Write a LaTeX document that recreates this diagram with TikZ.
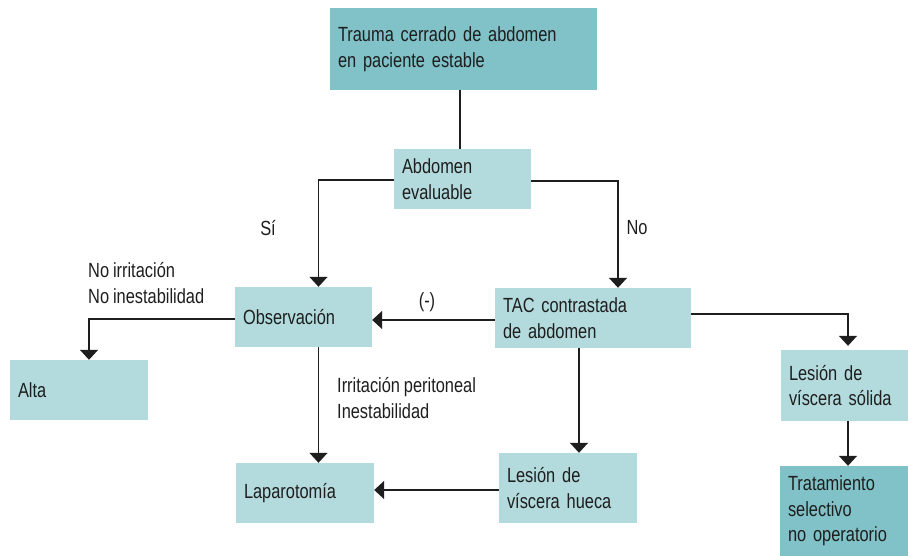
\documentclass[tikz,border=0pt]{standalone}
\usepackage{fontspec}
\setmainfont{Liberation Sans}[FakeStretch=0.8, WordSpace=0.85]
\usetikzlibrary{arrows.meta}
\definecolor{tealdark}{HTML}{80C2C7}
\definecolor{teallight}{HTML}{B3DBDD}
\definecolor{ink}{HTML}{1E1E1E}
\tikzset{
  box/.style={fill=teallight, draw=none, inner xsep=8pt, inner ysep=0pt,
    align=left, text=ink, font=\fontsize{20.5}{25.5}\selectfont},
  keybox/.style={box, fill=tealdark},
  link/.style={draw=ink, line width=1.6pt},
  arr/.style={link, -{Triangle[width=18pt,length=10pt]}},
  lbl/.style={text=ink, font=\fontsize{20.5}{25.5}\selectfont, inner sep=0pt, align=left}
}
\begin{document}
\begin{tikzpicture}[x=1pt,y=-1pt]
\useasboundingbox (0,0) rectangle (908,556);

% boxes
\node[keybox, minimum width=267, minimum height=82, text width=251] (top) at (463.5,49) {Trauma cerrado de abdomen\\en paciente estable};
\node[box, minimum width=137, minimum height=60, text width=121] (eval) at (462.5,179) {Abdomen\\evaluable};
\node[box, minimum width=137, minimum height=60, text width=121] (obs) at (303.5,317) {Observación};
\node[box, minimum width=196, minimum height=60, text width=180] (tac) at (593,318) {TAC contrastada\\de abdomen};
\node[box, minimum width=138, minimum height=60, text width=122] (alta) at (79,390) {Alta};
\node[box, minimum width=127, minimum height=71, text width=111] (solida) at (844.5,385.5) {Lesión de\\víscera sólida};
\node[keybox, minimum width=128, minimum height=90, text width=112] (trat) at (844,511) {Tratamiento\\selectivo\\no operatorio};
\node[box, minimum width=138, minimum height=60, text width=122] (lapa) at (305,493) {Laparotomía};
\node[box, minimum width=138, minimum height=70, text width=122] (hueca) at (568,488) {Lesión de\\víscera hueca};

% connectors
\draw[link] ([xshift=-3.5pt]top.south) -- ([xshift=-3.5pt]top.south |- eval.north);
\draw[arr] ([yshift=-1pt]eval.west) -| ([xshift=15pt]obs.north);
\draw[arr] ([yshift=-2pt]eval.east) -| ([xshift=25pt]tac.north);
\draw[arr] ([yshift=-2pt]tac.west) -- ([yshift=-2pt]tac.west -| obs.east);
\draw[arr] ([yshift=-2pt]obs.west) -| ([xshift=10pt]alta.north);
\draw[arr] ([xshift=15pt]obs.south) -- ([xshift=15pt]obs.south |- lapa.north);
\draw[arr] ([xshift=-14pt]tac.south) -- ([xshift=-14pt]tac.south |- hueca.north);
\draw[arr] ([yshift=4pt]tac.east) -| ([xshift=3.5pt,yshift=4pt]solida.north);
\draw[arr] ([xshift=3.5pt]solida.south) -- ([xshift=3.5pt]solida.south |- trat.north);
\draw[arr] ([yshift=-2pt]hueca.west) -- ([yshift=-2pt]hueca.west -| lapa.east);

% branch labels
\node[lbl] (si) at (268,228) {Sí};
\node[lbl] (no) at (637,228) {No};
\node[lbl] (neg) at (427,302) {(-)};
\node[lbl, anchor=west] (noirr) at (88,283) {No irritación\\No inestabilidad};
\node[lbl, anchor=west] (irr) at (337,398) {Irritación peritoneal\\Inestabilidad};
\end{tikzpicture}
\end{document}
